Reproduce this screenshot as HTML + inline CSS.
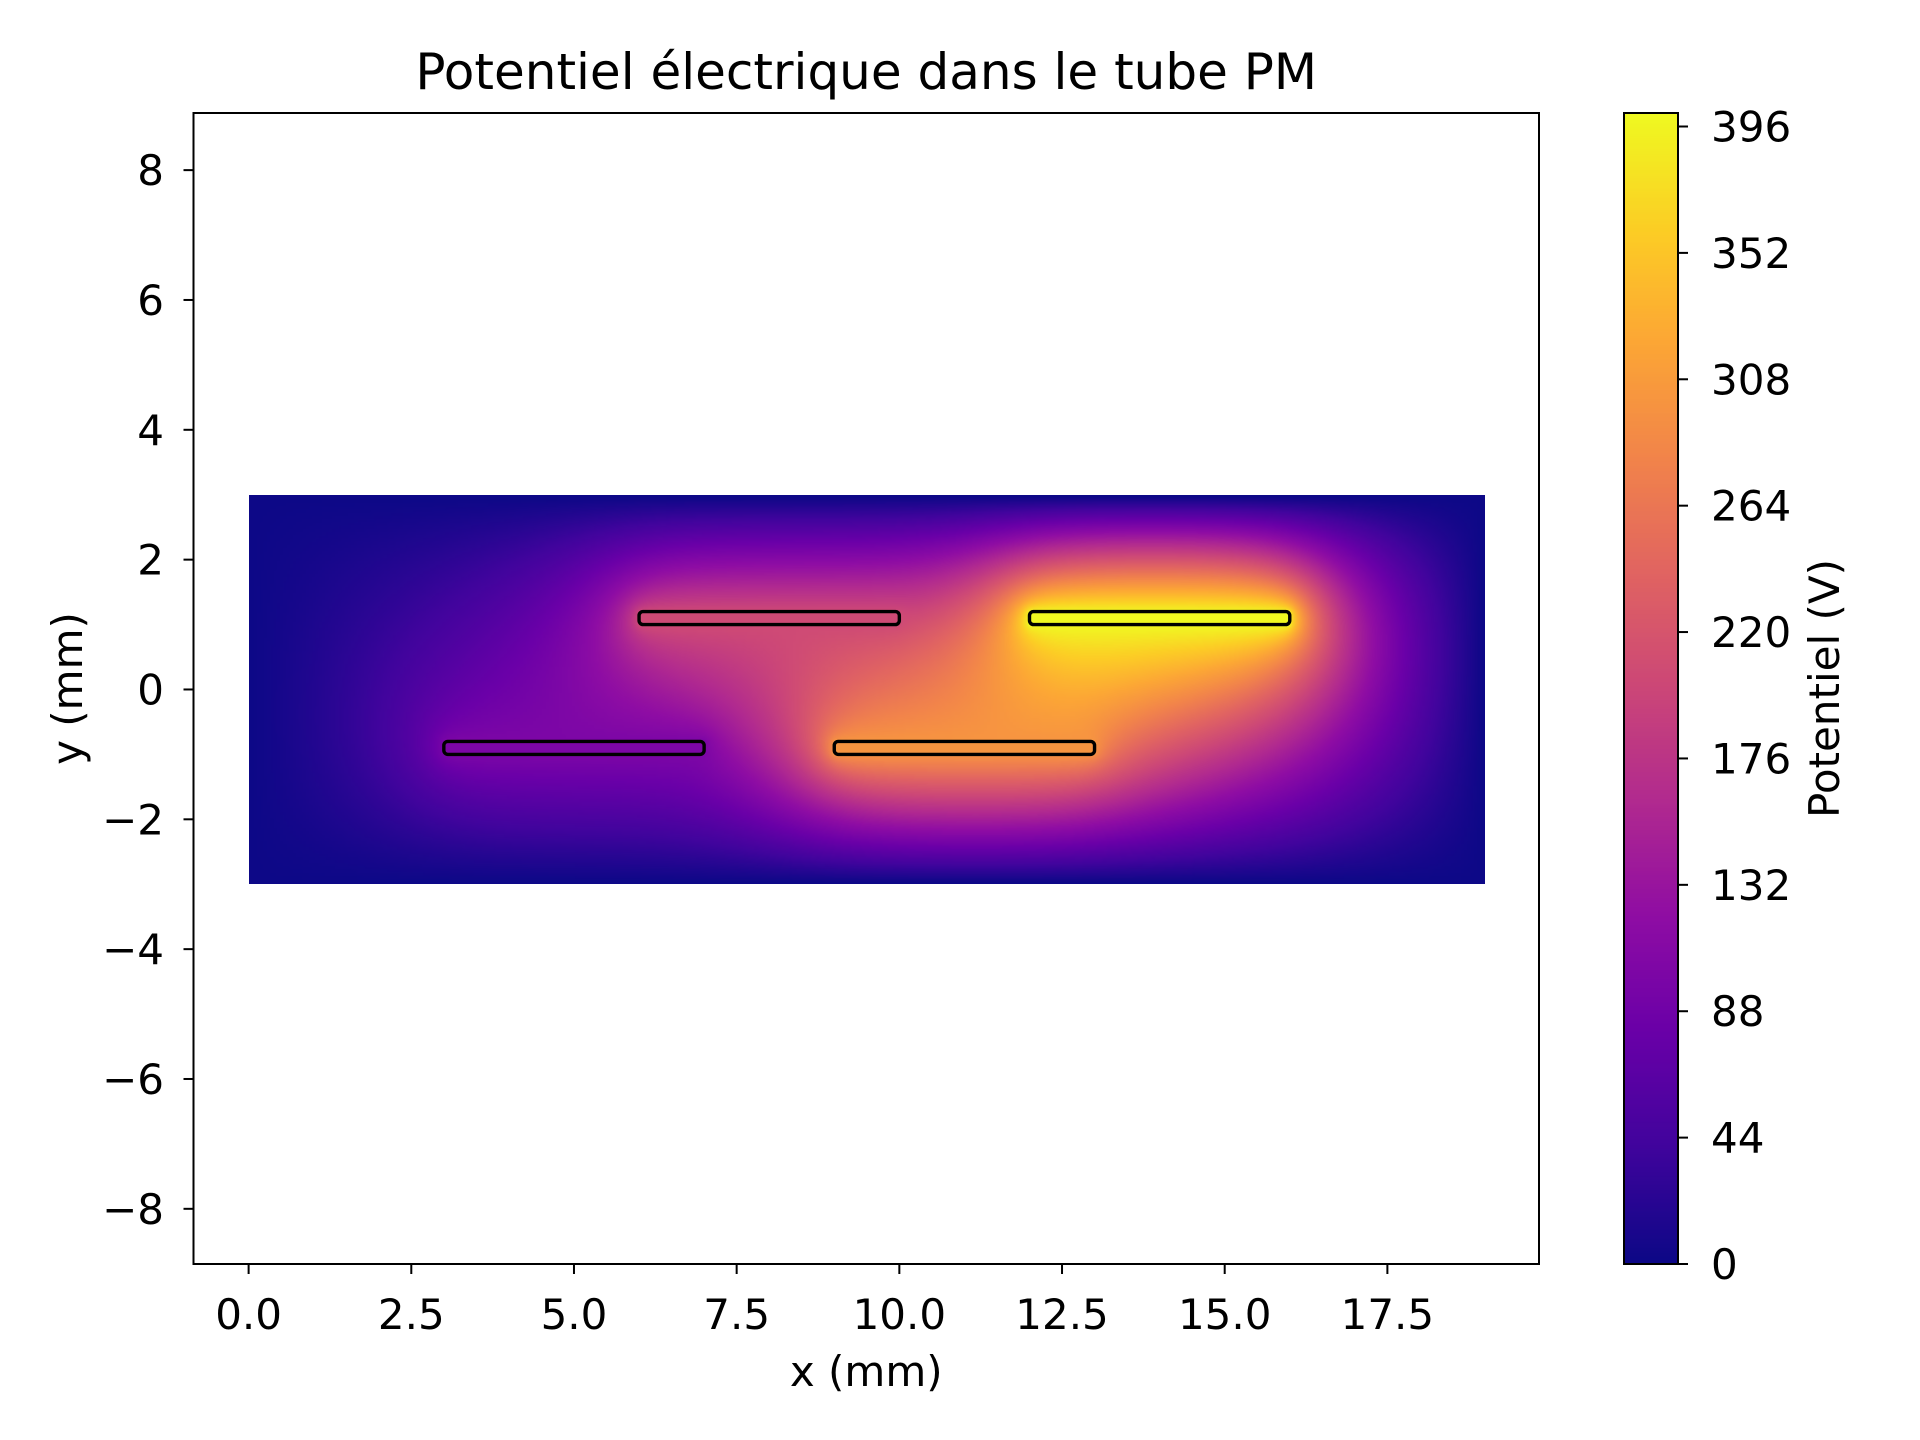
<!DOCTYPE html>
<html><head><meta charset="utf-8"><style>
html,body{margin:0;padding:0;background:#fff;}
#wrap{position:relative;width:1920px;height:1440px;overflow:hidden;}
svg{position:absolute;left:0;top:0;}
canvas{position:absolute;}
text{font-family:"DejaVu Sans","Liberation Sans",sans-serif;fill:#000;}
</style></head><body>
<div id="wrap">
<canvas id="heat"></canvas>
<canvas id="cbar"></canvas>
<svg id="svg" width="1920" height="1440"></svg>
</div>
<script>
// data
const electrodeX0 = [3, 6, 9, 12];
const electrodeX1 = [7, 10, 13, 16];
const electrodeY = [-0.9, 1.1, -0.9, 1.1];
const electrodeV = [100, 205, 300, 400];
const xTicks = [0, 2.5, 5, 7.5, 10, 12.5, 15, 17.5];
const xTickLabels = ["0.0","2.5","5.0","7.5","10.0","12.5","15.0","17.5"];
const yTicks = [8, 6, 4, 2, 0, -2, -4, -6, -8];
const yTickLabels = ["8","6","4","2","0","\u22122","\u22124","\u22126","\u22128"];
const cTicks = [0, 44, 88, 132, 176, 220, 264, 308, 352, 396];
const domainX = [0, 19];
const domainY = [-3, 3];
const vmin = 0, vmax = 400.7;

const AX = {l:193.5, r:1539, t:113, b:1264};
const xmin=-0.847, xmax=19.83, ymin=-8.85, ymax=8.88;
const sx = v => AX.l + (v - xmin) / (xmax - xmin) * (AX.r - AX.l);
const sy = v => AX.b - (v - ymin) / (ymax - ymin) * (AX.b - AX.t);
const CB = {l:1624, r:1678, t:113, b:1264};
const cy = v => CB.b - (v - vmin) / (vmax - vmin) * (CB.b - CB.t);

const stops = ["0d0887","41049d","6a00a8","8f0da4","b12a90","cc4778","e16462","f2844b","fca636","fcce25","f0f921"].map(h=>[parseInt(h.slice(0,2),16),parseInt(h.slice(2,4),16),parseInt(h.slice(4,6),16)]);
function cmap(t){t=Math.max(0,Math.min(1,t));const f=t*10;const i=Math.min(9,Math.floor(f));const u=f-i;const a=stops[i],b=stops[i+1];return [a[0]+(b[0]-a[0])*u,a[1]+(b[1]-a[1])*u,a[2]+(b[2]-a[2])*u];}

// solve Laplace
const h=0.05;
const NX=Math.round((domainX[1]-domainX[0])/h)+1, NY=Math.round((domainY[1]-domainY[0])/h)+1;
const V=new Float32Array(NX*NY), fixed=new Uint8Array(NX*NY);
for(let j=0;j<NY;j++)for(let i=0;i<NX;i++){
  const x=domainX[0]+i*h, y=domainY[0]+j*h, k=j*NX+i;
  if(i==0||j==0||i==NX-1||j==NY-1){fixed[k]=1;V[k]=0;}
  for(let e=0;e<electrodeV.length;e++){
    if(x>=electrodeX0[e]-1e-6&&x<=electrodeX1[e]+1e-6&&Math.abs(y-electrodeY[e])<=0.1+1e-6){fixed[k]=1;V[k]=electrodeV[e];}
  }
}
const w=1.94;
for(let it=0;it<1500;it++){
  for(let j=1;j<NY-1;j++)for(let i=1;i<NX-1;i++){const k=j*NX+i;if(fixed[k])continue;
    const nv=0.25*(V[k-1]+V[k+1]+V[k-NX]+V[k+NX]);V[k]+=w*(nv-V[k]);}
}
const hc=document.getElementById('heat');
hc.width=NX;hc.height=NY;
const L=sx(domainX[0]),R=sx(domainX[1]),T=sy(domainY[1]),B=sy(domainY[0]);
hc.style.left=L+'px';hc.style.top=T+'px';hc.style.width=(R-L)+'px';hc.style.height=(B-T)+'px';
const ctx=hc.getContext('2d');const img=ctx.createImageData(NX,NY);
for(let j=0;j<NY;j++)for(let i=0;i<NX;i++){const c=cmap((V[j*NX+i]-vmin)/(vmax-vmin));const p=((NY-1-j)*NX+i)*4;img.data[p]=c[0];img.data[p+1]=c[1];img.data[p+2]=c[2];img.data[p+3]=255;}
ctx.putImageData(img,0,0);

const cc=document.getElementById('cbar');cc.width=1;cc.height=256;
cc.style.left=CB.l+'px';cc.style.top=CB.t+'px';cc.style.width=(CB.r-CB.l)+'px';cc.style.height=(CB.b-CB.t)+'px';
const cx2=cc.getContext('2d');for(let j=0;j<256;j++){const c=cmap(1-j/255);cx2.fillStyle=`rgb(${c[0]|0},${c[1]|0},${c[2]|0})`;cx2.fillRect(0,j,1,1);}

const svg=document.getElementById('svg');const NS='http://www.w3.org/2000/svg';
function mk(tag,attrs,parent){const e=document.createElementNS(NS,tag);for(const k in attrs)e.setAttribute(k,attrs[k]);(parent||svg).appendChild(e);return e;}
// electrodes
for(let e=0;e<electrodeV.length;e++){
  const c=cmap((electrodeV[e]-vmin)/(vmax-vmin));
  const r=mk('rect',{x:sx(electrodeX0[e]),y:sy(electrodeY[e]+0.1),width:sx(electrodeX1[e])-sx(electrodeX0[e]),height:sy(electrodeY[e]-0.1)-sy(electrodeY[e]+0.1),rx:4,fill:`rgb(${c[0]|0},${c[1]|0},${c[2]|0})`,stroke:'#000','stroke-width':3.4});
  
  
}
const frame=mk('rect',{x:AX.l,y:AX.t,width:AX.r-AX.l,height:AX.b-AX.t,fill:'none',stroke:'#000','stroke-width':2});


xTicks.forEach((v,i)=>{
  mk('line',{x1:sx(v),x2:sx(v),y1:AX.b,y2:AX.b+10,stroke:'#000','stroke-width':2});
  const t=mk('text',{x:sx(v),y:1329,'text-anchor':'middle','font-size':42});t.textContent=xTickLabels[i];
  
  
});
yTicks.forEach((v,i)=>{
  mk('line',{x1:AX.l-10,x2:AX.l,y1:sy(v),y2:sy(v),stroke:'#000','stroke-width':2});
  const t=mk('text',{x:164,y:sy(v)+15,'text-anchor':'end','font-size':42});t.textContent=yTickLabels[i];
  
  
});
const cf=mk('rect',{x:CB.l,y:CB.t,width:CB.r-CB.l,height:CB.b-CB.t,fill:'none',stroke:'#000','stroke-width':2});


cTicks.forEach(v=>{
  mk('line',{x1:CB.r,x2:CB.r+10,y1:cy(v),y2:cy(v),stroke:'#000','stroke-width':2});
  const t=mk('text',{x:1711,y:cy(v)+15,'text-anchor':'start','font-size':42});t.textContent=String(v);
  
  
});
function label(txt,attrs,name){const t=mk('text',attrs);t.textContent=txt;}
label('Potentiel électrique dans le tube PM',{x:(AX.l+AX.r)/2,y:89,'text-anchor':'middle','font-size':50},'chart-title');
label('x (mm)',{x:(AX.l+AX.r)/2,y:1386,'text-anchor':'middle','font-size':42},'x-axis-title');
label('y (mm)',{x:0,y:0,'text-anchor':'middle','font-size':42,transform:`translate(82,${(AX.t+AX.b)/2}) rotate(-90)`},'y-axis-title');
label('Potentiel (V)',{x:0,y:0,'text-anchor':'middle','font-size':42,transform:`translate(1839,${(CB.t+CB.b)/2}) rotate(-90)`},'colorbar-title');
</script>
</body></html>
